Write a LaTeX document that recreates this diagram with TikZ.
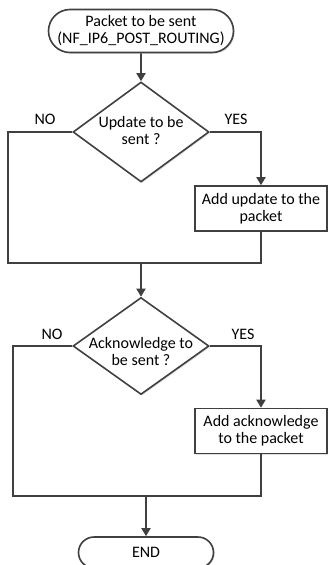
\documentclass[tikz,border=0pt]{standalone}
\usepackage{fontspec}
\setmainfont{Carlito}
\usetikzlibrary{arrows.meta,shapes.geometric,shapes.misc,shadows}
\definecolor{ln}{HTML}{404040}
\begin{document}
\begin{tikzpicture}[x=1pt,y=-1pt,
  every node/.style={font=\fontsize{16}{17}\selectfont, text=black},
  base/.style={draw=ln, line width=1.6pt, fill=white, drop shadow={shadow xshift=1.2pt, shadow yshift=-1.2pt, fill=gray!45, opacity=0.6}},
  term/.style={base, rounded rectangle, inner sep=0pt, align=center},
  dia/.style={base, diamond, inner sep=0pt},
  proc/.style={base, rectangle, inner sep=0pt, align=center, minimum width=132pt, minimum height=45pt},
  conn/.style={draw=ln, line width=1.8pt},
  arr/.style={conn, -{Triangle[length=8pt,width=9pt]}},
  lbl/.style={inner sep=0pt}
]
\clip (0,0) rectangle (328,565);
\useasboundingbox (0,0) rectangle (328,565);

\node[term, minimum width=185pt, minimum height=43pt] (start) at (141,31) {Packet to be sent\\(NF\_IP6\_POST\_ROUTING)};

\node[dia, minimum width=136pt, minimum height=100pt] (d1) at (141,132) {};
\node[lbl, align=center] (t1) at (141,131) {Update to be\\sent ?};

\node[proc] (b1) at (261,208.5) {Add update to the\\packet};

\node[dia, minimum width=136pt, minimum height=97pt] (d2) at (141,346) {};
\node[lbl, align=center] (t2) at (141,351) {Acknowledge to\\be sent ?};

\node[proc] (b2) at (261,431) {Add acknowledge\\to the packet};

\node[term, minimum width=135pt, minimum height=31pt] (end) at (146,552.5) {END};

\node[lbl] (no1) at (45,119) {NO};
\node[lbl] (yes1) at (236,119) {YES};
\node[lbl] (no2) at (52,334) {NO};
\node[lbl] (yes2) at (243,334) {YES};

\coordinate (j1l) at (8,263);
\coordinate (j1r) at (261,263);
\coordinate (j1m) at (141,263);
\coordinate (j2l) at (13,496);
\coordinate (j2r) at (261,496);
\coordinate (j2m) at (146,496);

\draw[arr] (start) -- (d1);
\draw[conn, line join=miter] (d1.west) -| (j1l) -- (j1r) -- (b1.south);
\draw[arr] (d1.east) -| (b1.north);
\draw[arr] (j1m) -- (d2.north);
\draw[conn, line join=miter] (d2.west) -| (j2l) -- (j2r) -- (b2.south);
\draw[arr] (d2.east) -| (b2.north);
\draw[arr] (j2m) -- (end.north);
\end{tikzpicture}
\end{document}
